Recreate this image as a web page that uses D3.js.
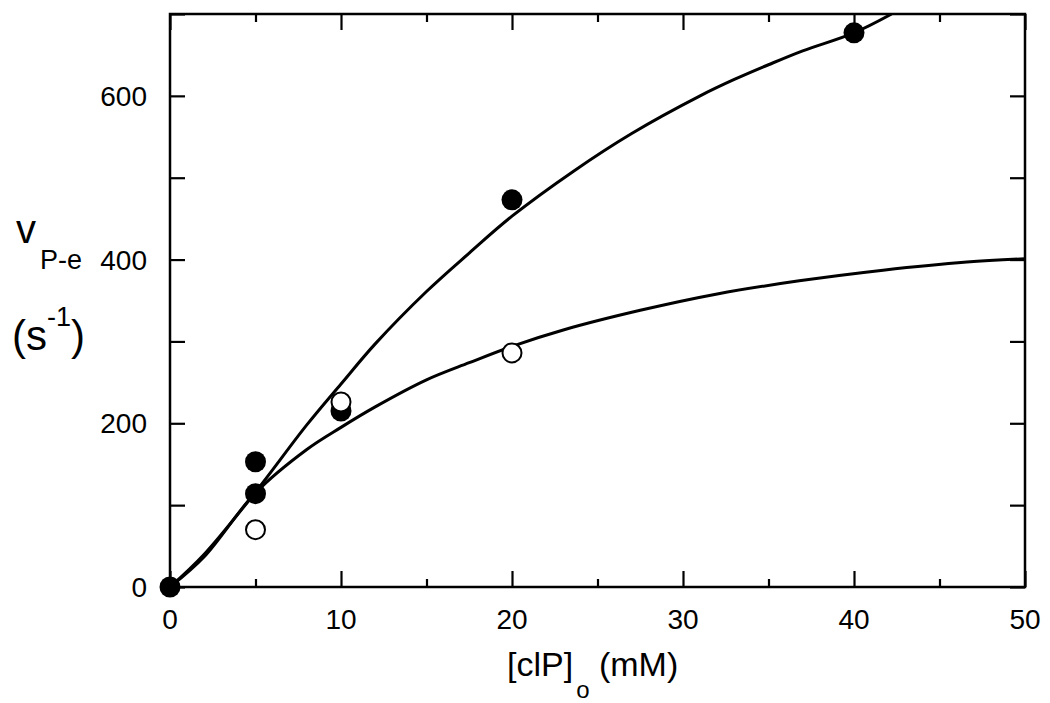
<!DOCTYPE html>
<html>
<head>
<meta charset="utf-8">
<script src="https://cdn.jsdelivr.net/npm/d3@7"></script>
<style>
  html, body { margin: 0; padding: 0; background: #fff; }
  svg { display: block; }
  text { font-family: "Liberation Sans", Arial, sans-serif; fill: #000; }
</style>
</head>
<body>
<svg id="chart" width="1050" height="703"></svg>
<script>
// ---- data ----
const filledX = [0, 5, 5, 10, 20, 40];
const filledY = [0, 153, 114, 215, 473, 677];
const openX = [5, 10, 20];
const openY = [70, 226, 286];

const upperCurveX = [0, 2, 5, 8, 10, 12, 15, 17.5, 20, 23.6, 27, 31, 33, 35, 37, 40, 42.2];
const upperCurveY = [0, 40, 116, 198, 248, 297, 361, 408, 453, 508, 554, 600, 620, 638, 655, 677, 700];
const lowerCurveX = [0, 2, 5, 8, 10, 12, 15, 17.5, 20, 23, 27.5, 32, 36.8, 41.7, 46.6, 50];
const lowerCurveY = [0, 37, 115, 168, 195, 220, 253, 274, 294, 314, 338, 358, 374, 387, 397, 401];

const xMajorTicks = [0, 10, 20, 30, 40, 50];
const xMinorTicks = [5, 15, 25, 35, 45];
const yTicks = [0, 100, 200, 300, 400, 500, 600, 700];
const yLabelTicks = [0, 200, 400, 600];

// ---- layout ----
const svg = d3.select("#chart");
const L = 170, R = 1025, T = 14, B = 587;
const x = d3.scaleLinear().domain([0, 50]).range([L, R]);
const y = d3.scaleLinear().domain([0, 700]).range([B, T]);

// curves
const line = d3.line().x(d => x(d[0])).y(d => y(d[1])).curve(d3.curveCatmullRom.alpha(0.5));
const upper = upperCurveX.map((v, i) => [v, upperCurveY[i]]);
const lower = lowerCurveX.map((v, i) => [v, lowerCurveY[i]]);
svg.append("clipPath").attr("id", "clip").append("rect")
  .attr("x", L).attr("y", T).attr("width", R - L).attr("height", B - T);
const plot = svg.append("g").attr("clip-path", "url(#clip)");
plot.append("path").datum(upper).attr("d", line)
  .attr("fill", "none").attr("stroke", "#000").attr("stroke-width", 3);
plot.append("path").datum(lower).attr("d", line)
  .attr("fill", "none").attr("stroke", "#000").attr("stroke-width", 3);

// frame
svg.append("rect").attr("x", L).attr("y", T).attr("width", R - L).attr("height", B - T)
  .attr("fill", "none").attr("stroke", "#000").attr("stroke-width", 2.5);

// axes via d3 axis (ticks inward, labels separately)
const xAxisMajor = d3.axisBottom(x).tickValues(xMajorTicks).tickSize(-16).tickFormat("");
const xAxisMinor = d3.axisBottom(x).tickValues(xMinorTicks).tickSize(-8).tickFormat("");
const xTopMajor = d3.axisTop(x).tickValues(xMajorTicks).tickSize(-16).tickFormat("");
const xTopMinor = d3.axisTop(x).tickValues(xMinorTicks).tickSize(-8).tickFormat("");
const yLeft = d3.axisLeft(y).tickValues(yTicks).tickSize(-15).tickFormat("");
const yRight = d3.axisRight(y).tickValues(yTicks).tickSize(-15).tickFormat("");

function styleAxis(g) {
  g.select(".domain").remove();
  g.selectAll(".tick line").attr("stroke", "#000").attr("stroke-width", 2.2);
}
svg.append("g").attr("transform", `translate(0,${B})`).call(xAxisMajor).call(styleAxis);
svg.append("g").attr("transform", `translate(0,${B})`).call(xAxisMinor).call(styleAxis);
svg.append("g").attr("transform", `translate(0,${T})`).call(xTopMajor).call(styleAxis);
svg.append("g").attr("transform", `translate(0,${T})`).call(xTopMinor).call(styleAxis);
svg.append("g").attr("transform", `translate(${L},0)`).call(yLeft).call(styleAxis);
svg.append("g").attr("transform", `translate(${R},0)`).call(yRight).call(styleAxis);

// tick labels
svg.append("g").selectAll("text").data(xMajorTicks).join("text")
  .attr("x", d => x(d)).attr("y", B + 42)
  .attr("text-anchor", "middle").attr("font-size", 28).text(d => d);
svg.append("g").selectAll("text").data(yLabelTicks).join("text")
  .attr("x", L - 23).attr("y", d => y(d) + 10)
  .attr("text-anchor", "end").attr("font-size", 28).text(d => d);

// markers
svg.append("g").selectAll("circle").data(filledX.map((v, i) => [v, filledY[i]])).join("circle")
  .attr("cx", d => x(d[0])).attr("cy", d => y(d[1])).attr("r", 10.5)
  .attr("fill", "#000");
svg.append("g").selectAll("circle").data(openX.map((v, i) => [v, openY[i]])).join("circle")
  .attr("cx", d => x(d[0])).attr("cy", d => y(d[1])).attr("r", 9.5)
  .attr("fill", "#fff").attr("stroke", "#000").attr("stroke-width", 2);

// x axis title
const xt = svg.append("text").attr("x", 507).attr("y", 676).attr("font-size", 34);
xt.append("tspan").text("[clP]");
xt.append("tspan").attr("font-size", 24).attr("dx", 3).attr("dy", 22).text("o");
xt.append("tspan").attr("dy", -22).text(" (mM)");

// y axis title
svg.append("text").attr("x", 16).attr("y", 243).attr("font-size", 40).text("v");
svg.append("text").attr("x", 40).attr("y", 269).attr("font-size", 27).text("P-e");
const yt = svg.append("text").attr("x", 12).attr("y", 350).attr("font-size", 42);
yt.append("tspan").text("(s");
yt.append("tspan").attr("font-size", 27).attr("dy", -24).text("-1");
yt.append("tspan").attr("dy", 24).text(")");
</script>
</body>
</html>
